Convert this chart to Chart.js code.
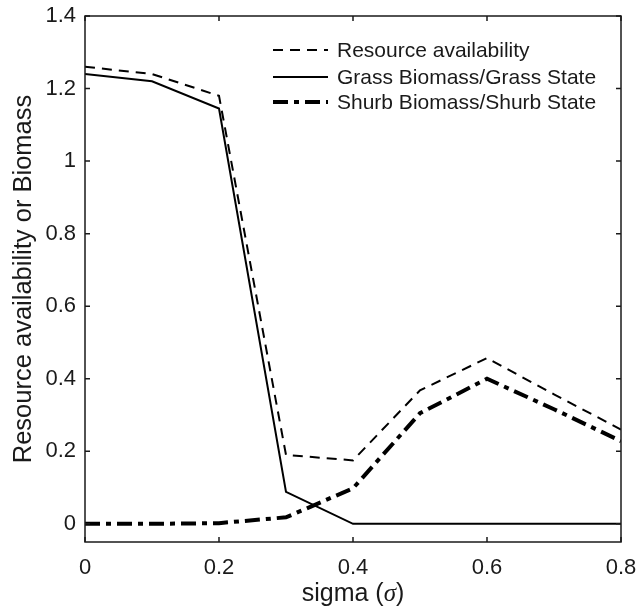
<!DOCTYPE html>
<html lang="en">
<head>
    <meta charset="UTF-8">
    <title>Resource availability or Biomass vs sigma</title>
    <script src="https://cdn.jsdelivr.net/npm/chart.js"></script>
    <style>
        html, body { margin: 0; padding: 0; background: #fff; }
        .chart-box { width: 637px; height: 606px; position: relative; }
    </style>
</head>
<body>
    <div class="chart-box">
        <canvas id="sigmaChart"></canvas>
    </div>

    <script>
        // Data
        const sigma = [0, 0.1, 0.2, 0.3, 0.4, 0.5, 0.6, 0.7, 0.8];
        const resource = [1.26, 1.24, 1.18, 0.19, 0.175, 0.368, 0.457, 0.357, 0.26];
        const grass = [1.24, 1.22, 1.145, 0.088, 0, 0, 0, 0, 0];
        const shrub = [0, 0, 0.002, 0.018, 0.098, 0.305, 0.4, 0.316, 0.228];

        const xTicks = [0, 0.2, 0.4, 0.6, 0.8];
        const yTicks = [0, 0.2, 0.4, 0.6, 0.8, 1, 1.2, 1.4];
        const labels = ['Resource availability', 'Grass Biomass/Grass State', 'Shurb Biomass/Shurb State'];

        const ink = '#1a1a1a';
        const tickFont = { family: 'Liberation Sans, Arial, sans-serif', size: 22 };

        function points(values) {
            return sigma.map((s, i) => ({ x: s, y: values[i] }));
        }

        // Frame, inward ticks, legend and axis titles
        const decorations = {
            id: 'decorations',
            afterDraw(chart) {
                const ctx = chart.ctx;
                const a = chart.chartArea;
                const xs = chart.scales.x;
                const ys = chart.scales.y;
                const tl = 5;

                ctx.save();
                ctx.strokeStyle = ink;
                ctx.lineWidth = 1.5;
                ctx.setLineDash([]);
                ctx.strokeRect(a.left, a.top, a.right - a.left, a.bottom - a.top);

                ctx.beginPath();
                xTicks.forEach(v => {
                    const px = xs.getPixelForValue(v);
                    ctx.moveTo(px, a.bottom); ctx.lineTo(px, a.bottom - tl);
                    ctx.moveTo(px, a.top); ctx.lineTo(px, a.top + tl);
                });
                yTicks.forEach(v => {
                    const py = ys.getPixelForValue(v);
                    ctx.moveTo(a.left, py); ctx.lineTo(a.left + tl, py);
                    ctx.moveTo(a.right, py); ctx.lineTo(a.right - tl, py);
                });
                ctx.stroke();

                // legend (no box), inside top right
                const rows = [50, 77, 102];
                ctx.font = '21px Liberation Sans, Arial, sans-serif';
                ctx.textBaseline = 'middle';
                ctx.textAlign = 'left';
                chart.data.datasets.forEach((ds, i) => {
                    ctx.beginPath();
                    ctx.lineWidth = ds.borderWidth;
                    ctx.setLineDash(ds.borderDash || []);
                    ctx.strokeStyle = ds.borderColor;
                    ctx.moveTo(273, rows[i]);
                    ctx.lineTo(328, rows[i]);
                    ctx.stroke();
                    ctx.fillStyle = ink;
                    ctx.fillText(ds.label, 337, rows[i] + 1);
                });
                ctx.setLineDash([]);

                // x title: sigma (σ) with italic sigma
                ctx.fillStyle = ink;
                ctx.textBaseline = 'middle';
                const normal = '25px Liberation Sans, Arial, sans-serif';
                const italic = 'italic 25px Liberation Serif, Times New Roman, serif';
                const parts = [['sigma (', normal], ['\u03C3', italic], [')', normal]];
                let total = 0;
                parts.forEach(p => { ctx.font = p[1]; total += ctx.measureText(p[0]).width; });
                let x = (a.left + a.right) / 2 - total / 2;
                parts.forEach(p => {
                    ctx.font = p[1];
                    ctx.fillText(p[0], x, 594);
                    x += ctx.measureText(p[0]).width;
                });

                // y title
                ctx.font = '25.5px Liberation Sans, Arial, sans-serif';
                ctx.textAlign = 'center';
                ctx.translate(24, (a.top + a.bottom) / 2);
                ctx.rotate(-Math.PI / 2);
                ctx.fillText('Resource availability or Biomass', 0, 0);
                ctx.restore();
            }
        };

        new Chart(document.getElementById('sigmaChart'), {
            type: 'line',
            data: {
                datasets: [
                    {
                        label: labels[0],
                        data: points(resource),
                        borderColor: '#000',
                        borderWidth: 2,
                        borderDash: [10, 7]
                    },
                    {
                        label: labels[1],
                        data: points(grass),
                        borderColor: '#000',
                        borderWidth: 2
                    },
                    {
                        label: labels[2],
                        data: points(shrub),
                        borderColor: '#000',
                        borderWidth: 4,
                        borderDash: [15, 6, 5, 6]
                    }
                ]
            },
            options: {
                responsive: true,
                maintainAspectRatio: false,
                animation: false,
                devicePixelRatio: 1,
                layout: { padding: { top: 16, right: 16, left: 0, bottom: 0 } },
                elements: { point: { radius: 0 }, line: { tension: 0 } },
                plugins: { legend: { display: false }, tooltip: { enabled: false } },
                scales: {
                    x: {
                        type: 'linear',
                        min: 0,
                        max: 0.8,
                        grid: { display: false, drawTicks: false, tickLength: 0 },
                        border: { display: false },
                        afterBuildTicks: s => { s.ticks = xTicks.map(v => ({ value: v })); },
                        afterFit: s => {
                            s.height = 64;
                            s.paddingLeft = 0;
                            s.paddingRight = 0;
                        },
                        ticks: {
                            color: ink,
                            font: tickFont,
                            padding: 13,
                            maxRotation: 0,
                            callback: v => String(v)
                        }
                    },
                    y: {
                        type: 'linear',
                        min: -0.05,
                        max: 1.4,
                        grid: { display: false, drawTicks: false, tickLength: 0 },
                        border: { display: false },
                        afterBuildTicks: s => { s.ticks = yTicks.map(v => ({ value: v })); },
                        afterFit: s => {
                            s.width = 85;
                            s.paddingTop = 0;
                            s.paddingBottom = 0;
                        },
                        ticks: {
                            color: ink,
                            font: tickFont,
                            padding: 9,
                            callback: v => String(v)
                        }
                    }
                }
            },
            plugins: [decorations]
        });
    </script>
</body>
</html>
